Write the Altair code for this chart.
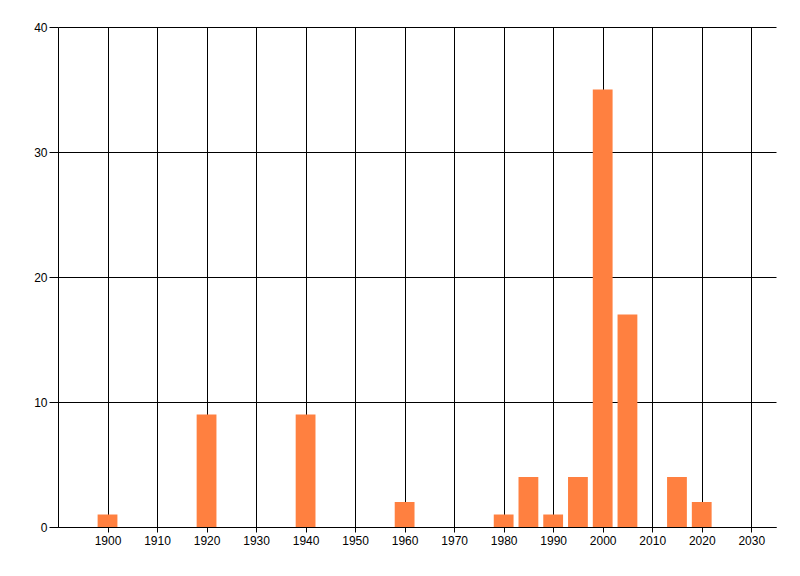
import altair as alt
import pandas as pd

years = [1900, 1920, 1940, 1960, 1980, 1985, 1990, 1995, 2000, 2005, 2015, 2020]
counts = [1, 9, 9, 2, 1, 4, 1, 4, 35, 17, 4, 2]
x_ticks = [1900, 1910, 1920, 1930, 1940, 1950, 1960, 1970, 1980, 1990, 2000, 2010, 2020, 2030]
y_ticks = [0, 10, 20, 30, 40]

df = pd.DataFrame({"year": years, "count": counts})

base = alt.Chart(df).transform_calculate(
    x0="datum.year - 2", x1="datum.year + 2"
)

bars = base.mark_rect(color="#FF8040").encode(
    x=alt.X("x0:Q",
            scale=alt.Scale(domain=[1890, 2035], nice=False, zero=False),
            axis=alt.Axis(values=x_ticks, format="d", title=None, grid=True,
                          gridColor="black", gridOpacity=1, gridWidth=1,
                          domainColor="black", tickColor="black", tickSize=5,
                          labelColor="black", labelFont="Liberation Sans",
                          labelFontSize=12, labelPadding=3)),
    x2="x1:Q",
    y=alt.Y("count:Q",
            scale=alt.Scale(domain=[0, 40], nice=False),
            axis=alt.Axis(values=y_ticks, title=None, grid=True,
                          gridColor="black", gridOpacity=1, gridWidth=1,
                          domainColor="black", tickColor="black", tickSize=9,
                          labelColor="black", labelFont="Liberation Sans",
                          labelFontSize=12, labelPadding=2)),
    y2=alt.datum(0),
)

chart = bars.properties(
    width=718, height=500,
    padding={"left": 50, "top": 19, "right": 10, "bottom": 30},
    autosize=alt.AutoSizeParams(type="none"),
).configure_view(stroke=None).configure_axis(domainWidth=1, tickWidth=1)

chart.save("out.html", embed_options={"renderer": "svg", "actions": False})
